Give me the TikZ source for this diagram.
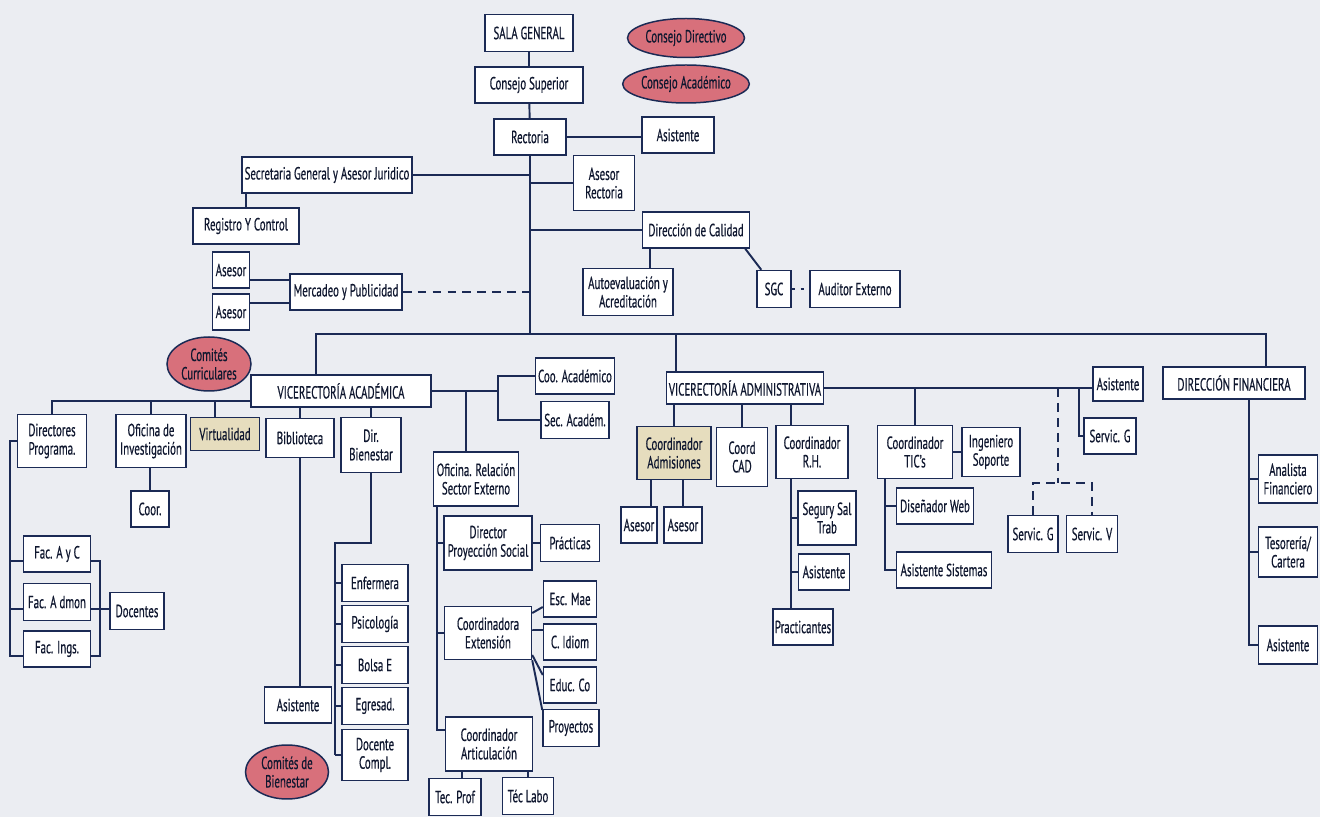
\documentclass[tikz,border=0pt]{standalone}
\usepackage{fontspec}
\setmainfont{PT Sans}[FakeStretch=0.62, FakeBold=0.5]
\usetikzlibrary{positioning,shapes.geometric}
\definecolor{navy}{HTML}{1B2A55}
\definecolor{paper}{HTML}{EBEDF2}
\definecolor{rosa}{HTML}{D8707B}
\definecolor{crema}{HTML}{E6DDBE}

\tikzset{
  box/.style 2 args={draw=navy, line width=0.85pt, fill=white, align=center,
    inner sep=1pt, minimum width=#1*0.02cm, minimum height=#2*0.02cm,
    font=\fontsize{10}{10.5}\selectfont, text=navy!55!black},
  oval/.style 2 args={ellipse, draw=navy, line width=0.85pt, fill=rosa, align=center,
    inner sep=0pt, minimum width=#1*0.02cm, minimum height=#2*0.02cm,
    font=\fontsize{10}{10.5}\selectfont, text=navy!55!black},
  ln/.style={draw=navy, line width=1.1pt},
  dsh/.style={ln, dash pattern=on 5pt off 3.5pt},
}

\begin{document}
\begin{tikzpicture}[x=0.02cm,y=-0.02cm]
  \fill[paper] (0,0) rectangle (1320,817);
  \useasboundingbox (0,0) rectangle (1320,817);

  % cabeza
  \node[box={88}{37}] (sala) at (529,33) {SALA GENERAL};
  \node[oval={117}{39}] (cdir) at (686,38) {Consejo Directivo};
  \node[oval={117}{38}] (cacad) at (686,84) {Consejo Académico};
  \node[box={108}{36}] (csup) at (529,85) {Consejo Superior};
  \node[box={72}{36}] (rect) at (530,137) {Rectoria};
  \node[box={72}{36}] (asis) at (678,135) {Asistente};
  \node[box={170}{36}] (secg) at (327,175) {Secretaria General y Asesor Juridico};
  \node[box={61}{55}] (asrect) at (604,183) {Asesor\\Rectoria};
  \node[box={106}{36}] (regc) at (246,226) {Registro Y Control};
  \node[box={107}{36}] (dcal) at (696,230) {Dirección de Calidad};
  \node[box={90}{47}] (autoev) at (628,292) {Autoevaluación y\\Acreditación};
  \node[box={34}{37}] (sgc) at (774,289) {SGC};
  \node[box={90}{37}] (audit) at (855,289) {Auditor Externo};
  \node[box={37}{36}] (as1) at (231,270) {Asesor};
  \node[box={37}{36}] (as2) at (231,312) {Asesor};
  \node[box={112}{36}] (merc) at (346,292) {Mercadeo y Publicidad};

  % vicerrectoria academica
  \node[box={180}{32}] (vacad) at (341,391) {VICERECTORÍA ACADÉMICA};
  \node[oval={84}{54}] (comcur) at (209,364) {Comités\\Curriculares};
  \node[box={69}{53}] (dirprog) at (52,441) {Directores\\Programa.};
  \node[box={70}{53}] (ofinv) at (151,441) {Oficina de\\Investigación};
  \node[box={69}{33}, fill=crema] (virt) at (225,434) {Virtualidad};
  \node[box={68}{39}] (biblio) at (300,438) {Biblioteca};
  \node[box={60}{55}] (dbien) at (371,445) {Dir.\\Bienestar};
  \node[box={38}{36}] (coor) at (150,509) {Coor.};
  \node[box={67}{36}] (facayc) at (57,554) {Fac. A y C};
  \node[box={67}{37}] (facadm) at (57,602) {Fac. A dmon};
  \node[box={67}{36}] (facing) at (57,649) {Fac. Ings.};
  \node[box={54}{37}] (docen) at (137,611) {Docentes};
  \node[box={67}{36}] (asisb) at (298,705) {Asistente};
  \node[oval={83}{54}] (combien) at (287,772) {Comités de\\Bienestar};
  \node[box={66}{37}] (enf) at (375,583) {Enfermera};
  \node[box={66}{37}] (psi) at (375,624) {Psicología};
  \node[box={66}{37}] (bolsa) at (375,665) {Bolsa E};
  \node[box={66}{37}] (egr) at (375,706) {Egresad.};
  \node[box={66}{51}] (doccomp) at (375,755) {Docente\\Compl.};
  \node[box={79}{36}] (cooac) at (575,376) {Coo. Académico};
  \node[box={68}{37}] (secac) at (575,420) {Sec. Académ.};
  \node[box={85}{54}] (ofrel) at (476,479) {Oficina. Relación\\Sector Externo};
  \node[box={88}{54}] (dirps) at (488,543) {Director\\Proyección Social};
  \node[box={59}{37}] (pract) at (570,543) {Prácticas};
  \node[box={87}{53}] (coordext) at (488,633) {Coordinadora\\Extensión};
  \node[box={53}{36}] (escmae) at (570,599) {Esc. Mae};
  \node[box={53}{36}] (cidiom) at (570,642) {C. Idiom};
  \node[box={53}{36}] (educ) at (570,685) {Educ. Co};
  \node[box={56}{37}] (proy) at (571,728) {Proyectos};
  \node[box={87}{54}] (carti) at (489,744) {Coordinador\\Articulación};
  \node[box={52}{37}] (tecprof) at (455,797) {Tec. Prof};
  \node[box={51}{37}] (teclabo) at (528,796) {Téc Labo};

  % vicerrectoria administrativa
  \node[box={157}{32}] (vadm) at (745,388) {VICERECTORÍA ADMINISTRATIVA};
  \node[box={50}{34}] (asisa) at (1118,384) {Asistente};
  \node[box={74}{53}, fill=crema] (cadm) at (674,453) {Coordinador\\Admisiones};
  \node[box={36}{36}] (asad1) at (639,525) {Asesor};
  \node[box={38}{36}] (asad2) at (683,525) {Asesor};
  \node[box={51}{59}] (ccad) at (742,457) {Coord\\CAD};
  \node[box={72}{53}] (crh) at (812,452) {Coordinador\\R.H.};
  \node[box={58}{54}] (segur) at (827,518) {Segury Sal\\Trab};
  \node[box={51}{36}] (asisrh) at (824,572) {Asistente};
  \node[box={59}{36}] (practi) at (803,627) {Practicantes};
  \node[box={75}{53}] (tic) at (915,452) {Coordinador\\TIC's};
  \node[box={58}{49}] (ingsop) at (991,452) {Ingeniero\\Soporte};
  \node[box={77}{36}] (disweb) at (935,506) {Diseñador Web};
  \node[box={95}{36}] (asissis) at (944,570) {Asistente Sistemas};
  \node[box={50}{37}] (servg2) at (1033,534) {Servic. G};
  \node[box={51}{37}] (servv) at (1092,534) {Servic. V};
  \node[box={52}{36}] (servg1) at (1110,436) {Servic. G};

  % direccion financiera
  \node[box={142}{32}] (dfin) at (1234,383) {DIRECCIÓN FINANCIERA};
  \node[box={59}{48}] (anfin) at (1288,479) {Analista\\Financiero};
  \node[box={59}{50}] (tesor) at (1288,552) {Tesorería/\\Cartera};
  \node[box={59}{38}] (asisf) at (1288,645) {Asistente};

  % tronco
  \coordinate (busC) at (530,334);
  \coordinate (busL) at (316,334);
  \coordinate (busR) at (1266,334);
  \coordinate (busA) at (676,334);
  \draw[ln] (sala) -- (csup);
  \draw[ln] (csup) -- (rect);
  \draw[ln] (rect) -- (busC);
  \draw[ln] (rect.east) -- (rect.east -| asis.west);
  \draw[ln] (secg.east) -- (secg.east -| rect.south);
  \draw[ln] (asrect.west -| rect.south) -- (asrect.west);
  \draw[ln] (dcal.west -| rect.south) -- (dcal.west);
  \draw[ln] (regc.north) -- (regc.north |- secg.south);
  \coordinate (dcx) at ([xshift=-0.92cm]dcal.south);
  \draw[ln] (dcx) -- (dcx |- autoev.north);
  \draw[ln] ([xshift=-0.1cm]dcal.south east) -- ([xshift=0.1cm]sgc.north west);
  \draw[ln, dash pattern=on 2pt off 3pt] (sgc) -- (audit);
  \draw[ln] ([yshift=-0.2cm]as1.east) -- ([yshift=-0.2cm]as1.east -| merc.west);
  \draw[ln] ([yshift=0.18cm]as2.east) -- ([yshift=0.18cm]as2.east -| merc.west);
  \draw[dsh] (merc.east) -- (merc.east -| busC);
  \draw[ln] (busL |- vacad.north) -- (busL) -- (busR) -- (busR |- dfin.north);
  \draw[ln] (busA) -- (busA |- vadm.north);

  % ramas academicas
  \coordinate (vaL) at (52,401);
  \draw[ln] (vacad.west |- vaL) -- (vaL) -- (dirprog.north);
  \draw[ln] (ofinv.north) -- (ofinv.north |- vaL);
  \coordinate (vx) at ([xshift=-0.2cm]virt.north);
  \draw[ln] (vx) -- (vx |- vaL);
  \draw[ln] (biblio.north) -- (biblio.north |- vacad.south);
  \draw[ln] (dbien.north) -- (dbien.north |- vacad.south);
  \draw[ln] (coor.north) -- (coor.north |- ofinv.south);
  \coordinate (lx) at (10,0);
  \coordinate (rx) at (100,0);
  \coordinate (f1w) at ([yshift=-0.14cm]facayc.west);
  \coordinate (f2w) at ([yshift=-0.14cm]facadm.west);
  \coordinate (f3w) at ([yshift=-0.14cm]facing.west);
  \coordinate (f1e) at ([yshift=-0.14cm]facayc.east);
  \coordinate (f2e) at ([yshift=-0.14cm]facadm.east);
  \coordinate (f3e) at ([yshift=-0.14cm]facing.east);
  \draw[ln] (dirprog.west) -| (f3w -| lx) -- (f3w);
  \draw[ln] (f1w -| lx) -- (f1w);
  \draw[ln] (f2w -| lx) -- (f2w);
  \draw[ln] (f1e) -| (f3e -| rx) -- (f3e);
  \draw[ln] (f2e) -- (f2e -| docen.west);
  \draw[ln] (biblio.south) -- (biblio.south |- asisb.north);
  \coordinate (bx) at (335,543);
  \draw[ln] (dbien.south) |- (bx) -- (bx |- doccomp.west);
  \foreach \n in {enf,psi,bolsa,egr,doccomp}
    \draw[ln] (bx |- \n.west) -- (\n.west);
  \coordinate (sx) at (498,0);
  \coordinate (ox) at (466,391);
  \draw[ln] (vacad.east) -- (vacad.east -| sx);
  \draw[ln] (cooac.west) -| (secac.west -| sx) -- (secac.west);
  \draw[ln] (ox) -- (ox |- ofrel.north);
  \coordinate (ex) at (437,0);
  \coordinate (caw) at ([yshift=0.28cm]carti.west);
  \draw[ln] (ofrel.south -| ex) |- (caw);
  \draw[ln] (dirps.west -| ex) -- (dirps.west);
  \draw[ln] (coordext.west -| ex) -- (coordext.west);
  \draw[ln] (dirps.east) -- (dirps.east -| pract.west);
  \draw[ln] ([yshift=0.4cm]coordext.east) -- ([yshift=-0.16cm]escmae.west);
  \draw[ln] ([yshift=0.06cm]coordext.east) -- ([yshift=0.24cm]cidiom.west);
  \draw[ln] ([yshift=-0.44cm]coordext.east) -- ([yshift=0.2cm]educ.west);
  \draw[ln] (coordext.south east) -- ([yshift=0.36cm]proy.west);
  \coordinate (tp) at ([xshift=0.14cm]tecprof.north);
  \draw[ln] (tp) -- (tp |- carti.south);
  \draw[ln] (teclabo.north) -- (teclabo.north |- carti.south);

  % ramas administrativas
  \draw[ln] (vadm.east) -- (vadm.east -| asisa.west);
  \draw[ln] (cadm.north) -- (cadm.north |- vadm.south);
  \coordinate (a1) at ([xshift=0.24cm]asad1.north);
  \draw[ln] (a1) -- (a1 |- cadm.south);
  \draw[ln] (asad2.north) -- (asad2.north |- cadm.south);
  \draw[ln] (ccad.north) -- (ccad.north |- vadm.south);
  \coordinate (rhn) at ([xshift=-0.42cm]crh.north);
  \coordinate (rhs) at ([xshift=-0.42cm]crh.south);
  \draw[ln] (rhn) -- (rhn |- vadm.south);
  \draw[ln] (rhs) -- (rhs |- practi.north);
  \draw[ln] (rhs |- segur.west) -- (segur.west);
  \draw[ln] (rhs |- asisrh.west) -- (asisrh.west);
  \draw[ln] (tic.north) -- (tic.north |- vadm.east);
  \draw[ln] (tic.east) -- (tic.east -| ingsop.west);
  \coordinate (tcs) at ([xshift=-0.6cm]tic.south);
  \draw[ln] (tcs) |- (asissis.west);
  \draw[ln] (tcs |- disweb.west) -- (disweb.west);
  \coordinate (dtop) at (1058,388);
  \coordinate (dmid) at (1058,483);
  \draw[dsh] (dtop) -- (dmid);
  \draw[dsh] (servg2.north) |- (servv.north |- dmid) -- (servv.north);
  \coordinate (gx) at (1079,388);
  \draw[ln] (gx) |- (servg1.west);

  % ramas financieras
  \coordinate (dfs) at ([xshift=0.3cm]dfin.south);
  \draw[ln] (dfs) |- (asisf.west);
  \draw[ln] (dfs |- anfin.west) -- (anfin.west);
  \draw[ln] (dfs |- tesor.west) -- (tesor.west);
\end{tikzpicture}
\end{document}
